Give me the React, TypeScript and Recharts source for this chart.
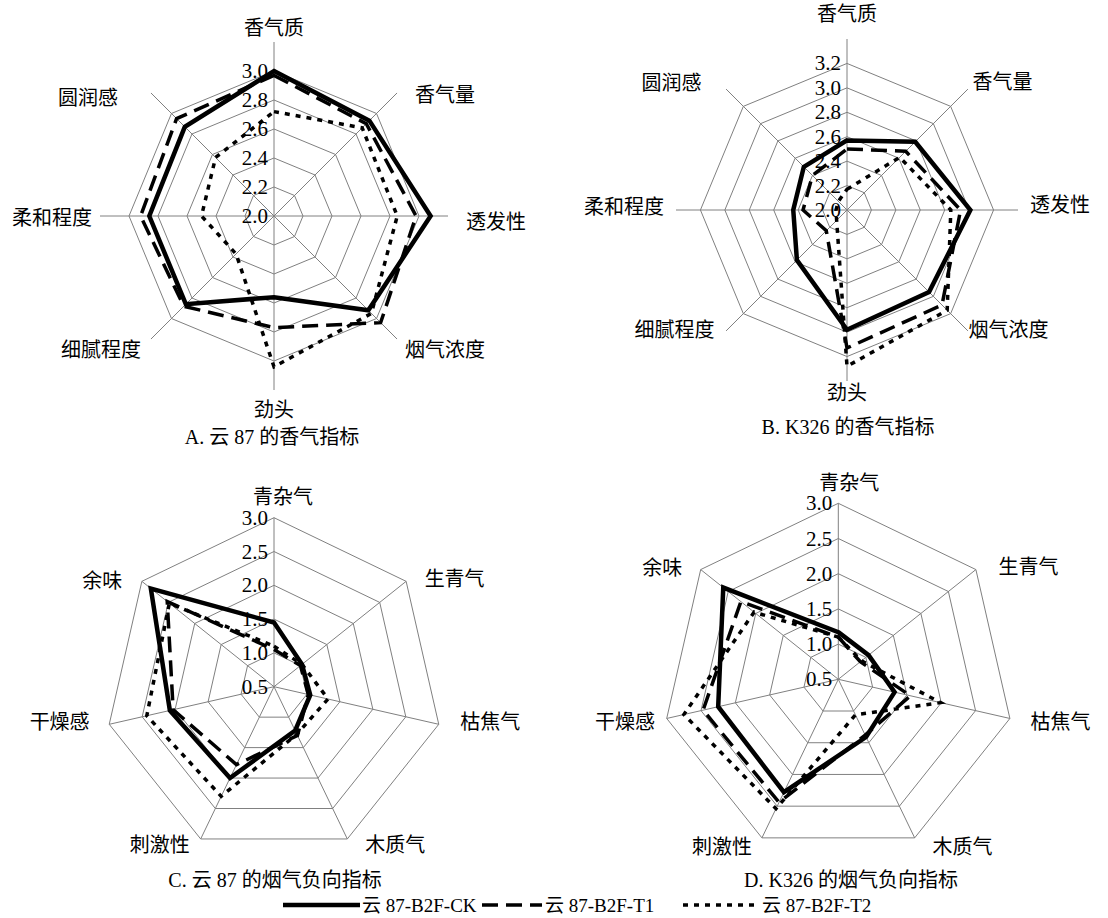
import React from 'react';
import { RadarChart, Radar, PolarGrid, PolarAngleAxis, PolarRadiusAxis } from 'recharts';

const FONT = "'Liberation Serif', 'Times New Roman', 'Noto Sans CJK SC', serif";

// axis categories
const aromaAxes = ['香气质', '香气量', '透发性', '烟气浓度', '劲头', '细腻程度', '柔和程度', '圆润感'];
const smokeAxes = ['青杂气', '生青气', '枯焦气', '木质气', '刺激性', '干燥感', '余味'];

// A. 云 87 aroma
const yun87AromaCK = [3.0, 2.93, 3.08, 2.92, 2.56, 2.86, 2.86, 2.87];
const yun87AromaT1 = [2.97, 2.9, 2.98, 3.04, 2.77, 2.88, 2.92, 2.95];
const yun87AromaT2 = [2.72, 2.86, 2.85, 2.95, 3.04, 2.37, 2.5, 2.57];

// B. K326 aroma
const k326AromaCK = [2.57, 2.79, 3.01, 2.95, 2.98, 2.58, 2.44, 2.5];
const k326AromaT1 = [2.5, 2.68, 2.93, 3.1, 3.13, 2.24, 2.36, 2.4];
const k326AromaT2 = [2.17, 2.61, 2.85, 3.16, 3.28, 2.12, 2.09, 2.1];

// C. 云 87 negative smoke
const yun87SmokeCK = [1.45, 1.03, 1.05, 1.22, 2.0, 2.08, 2.83];
const yun87SmokeT1 = [1.05, 1.0, 1.02, 1.3, 1.78, 2.03, 2.52];
const yun87SmokeT2 = [1.1, 1.03, 1.32, 1.28, 2.3, 2.43, 2.48];

// D. K326 negative smoke
const k326SmokeCK = [1.17, 1.05, 1.32, 1.41, 2.28, 2.25, 2.59];
const k326SmokeT1 = [1.1, 0.9, 1.55, 1.38, 2.44, 2.47, 2.27];
const k326SmokeT2 = [1.1, 0.92, 1.99, 1.06, 2.54, 2.75, 2.03];

// radial ticks
const yun87AromaTicks = [2.0, 2.2, 2.4, 2.6, 2.8, 3.0];
const k326AromaTicks = [2.0, 2.2, 2.4, 2.6, 2.8, 3.0, 3.2];
const smokeTicks = [0.5, 1.0, 1.5, 2.0, 2.5, 3.0];

const seriesNames = ['云 87-B2F-CK', '云 87-B2F-T1', '云 87-B2F-T2'];

// label nudges (layout only), per panel, in axis order
const labelNudgeA: [number, number][] = [[0, 0], [8, 12], [4, 6], [-2, 1], [0, 6], [0, 1], [6, 2], [-23, 15]];
const labelNudgeB: [number, number][] = [[0, -13], [-4, 1], [0, -5], [-8, -9], [0, 0], [-3, -9], [0, -3], [-16, 2]];
const labelNudgeC: [number, number][] = [[9, -5], [6, 8], [6, -6], [11, -8], [-4, -8], [-4, -6], [-7, 10]];
const labelNudgeD: [number, number][] = [[11, -4], [10, 7], [5, 0], [11, -5], [-3, -5], [4, 0], [-6, 8]];

type Row = { axis: string; ck: number; t1: number; t2: number };

function buildRows(axes: string[], ck: number[], t1: number[], t2: number[]): Row[] {
  return axes.map((axis, i) => ({ axis, ck: ck[i], t1: t1[i], t2: t2[i] }));
}

function RadiusTick(props: any) {
  const { x, y, payload } = props;
  return (
    <text x={x - 6} y={y} textAnchor="end" dominantBaseline="central" fontSize={21} fontFamily={FONT} fill="#000">
      {Number(payload.value).toFixed(1)}
    </text>
  );
}

function makeAngleTick(cx: number, cy: number, r: number, pad: number, nudge: [number, number][]) {
  return function AngleTick(props: any) {
    const { x, y, payload, index } = props;
    const dx = x - cx;
    const dy = y - cy;
    const len = Math.sqrt(dx * dx + dy * dy) || 1;
    const ux = dx / len;
    const uy = dy / len;
    const n = nudge[index] || [0, 0];
    const tx = cx + ux * (r + pad) + n[0];
    const ty = cy + uy * (r + pad) + n[1];
    let anchor: 'start' | 'middle' | 'end' = 'middle';
    if (ux > 0.15) anchor = 'start';
    else if (ux < -0.15) anchor = 'end';
    return (
      <text x={tx} y={ty} textAnchor={anchor} dominantBaseline="central" fontSize={20} fontFamily={FONT} fill="#000">
        {payload.value}
      </text>
    );
  };
}

type PanelProps = {
  left: number;
  top: number;
  width: number;
  height: number;
  cx: number;
  cy: number;
  outerRadius: number;
  domain: [number, number];
  ticks: number[];
  rows: Row[];
  pad: number;
  nudge: [number, number][];
  title: string;
  titleX: number;
  titleY: number;
};

function RadarPanel(p: PanelProps) {
  return (
    <div style={{ position: 'absolute', left: p.left, top: p.top, width: p.width, height: p.height }}>
      <RadarChart width={p.width} height={p.height} data={p.rows} cx={p.cx} cy={p.cy} outerRadius={p.outerRadius}>
        <PolarGrid gridType="polygon" stroke="#808080" strokeWidth={1} />
        <PolarAngleAxis
          dataKey="axis"
          tick={makeAngleTick(p.cx, p.cy, p.outerRadius, p.pad, p.nudge)}
          tickLine={false}
          axisLine={false}
        />
        <PolarRadiusAxis
          angle={90}
          domain={p.domain}
          ticks={p.ticks}
          type="number"
          axisLine={false}
          tickLine={false}
          tick={<RadiusTick />}
        />
        <Radar dataKey="t2" name={seriesNames[2]} stroke="#000" strokeWidth={3.5} strokeDasharray="5 6" fill="none" dot={false} isAnimationActive={false} />
        <Radar dataKey="t1" name={seriesNames[1]} stroke="#000" strokeWidth={3.5} strokeDasharray="16 8" fill="none" dot={false} isAnimationActive={false} />
        <Radar dataKey="ck" name={seriesNames[0]} stroke="#000" strokeWidth={4.5} fill="none" dot={false} isAnimationActive={false} />
      </RadarChart>
      <div
        style={{
          position: 'absolute',
          left: p.titleX - 200,
          width: 400,
          top: p.titleY - 13,
          textAlign: 'center',
          fontSize: 20,
          fontFamily: FONT,
          lineHeight: '26px',
          whiteSpace: 'nowrap',
        }}
      >
        {p.title}
      </div>
    </div>
  );
}

function FigureLegend() {
  const y = 905;
  return (
    <svg width={1108} height={30} style={{ position: 'absolute', left: 0, top: y - 15 }}>
      <g fontFamily={FONT} fontSize={19} fill="#000">
        <line x1={283} x2={360} y1={15} y2={15} stroke="#000" strokeWidth={4.5} />
        <text x={362} y={15} dominantBaseline="central">{seriesNames[0]}</text>
        <line x1={482} x2={542} y1={15} y2={15} stroke="#000" strokeWidth={3.5} strokeDasharray="16 8" />
        <text x={545} y={15} dominantBaseline="central">{seriesNames[1]}</text>
        <line x1={683} x2={758} y1={15} y2={15} stroke="#000" strokeWidth={3.5} strokeDasharray="5 6" />
        <text x={762} y={15} dominantBaseline="central">{seriesNames[2]}</text>
      </g>
    </svg>
  );
}

export default function App() {
  const rowsA = buildRows(aromaAxes, yun87AromaCK, yun87AromaT1, yun87AromaT2);
  const rowsB = buildRows(aromaAxes, k326AromaCK, k326AromaT1, k326AromaT2);
  const rowsC = buildRows(smokeAxes, yun87SmokeCK, yun87SmokeT1, yun87SmokeT2);
  const rowsD = buildRows(smokeAxes, k326SmokeCK, k326SmokeT1, k326SmokeT2);

  return (
    <div style={{ position: 'absolute', left: 0, top: 0, width: 1108, height: 918, background: '#fff', fontFamily: FONT }}>
      <RadarPanel
        left={0} top={0} width={554} height={455}
        cx={274} cy={216} outerRadius={174}
        domain={[2.0, 3.2]} ticks={yun87AromaTicks} rows={rowsA} pad={14} nudge={labelNudgeA}
        title="A. 云 87 的香气指标" titleX={272} titleY={437}
      />
      <RadarPanel
        left={554} top={0} width={554} height={455}
        cx={293} cy={210} outerRadius={171}
        domain={[2.0, 3.4]} ticks={k326AromaTicks} rows={rowsB} pad={12} nudge={labelNudgeB}
        title="B. K326 的香气指标" titleX={294} titleY={427}
      />
      <RadarPanel
        left={0} top={455} width={554} height={445}
        cx={274} cy={231.7} outerRadius={169}
        domain={[0.5, 3.0]} ticks={smokeTicks} rows={rowsC} pad={16} nudge={labelNudgeC}
        title="C. 云 87 的烟气负向指标" titleX={275} titleY={425}
      />
      <RadarPanel
        left={554} top={455} width={554} height={445}
        cx={284.3} cy={224.3} outerRadius={176}
        domain={[0.5, 3.0]} ticks={smokeTicks} rows={rowsD} pad={16} nudge={labelNudgeD}
        title="D. K326 的烟气负向指标" titleX={297} titleY={425}
      />
      <FigureLegend />
    </div>
  );
}
